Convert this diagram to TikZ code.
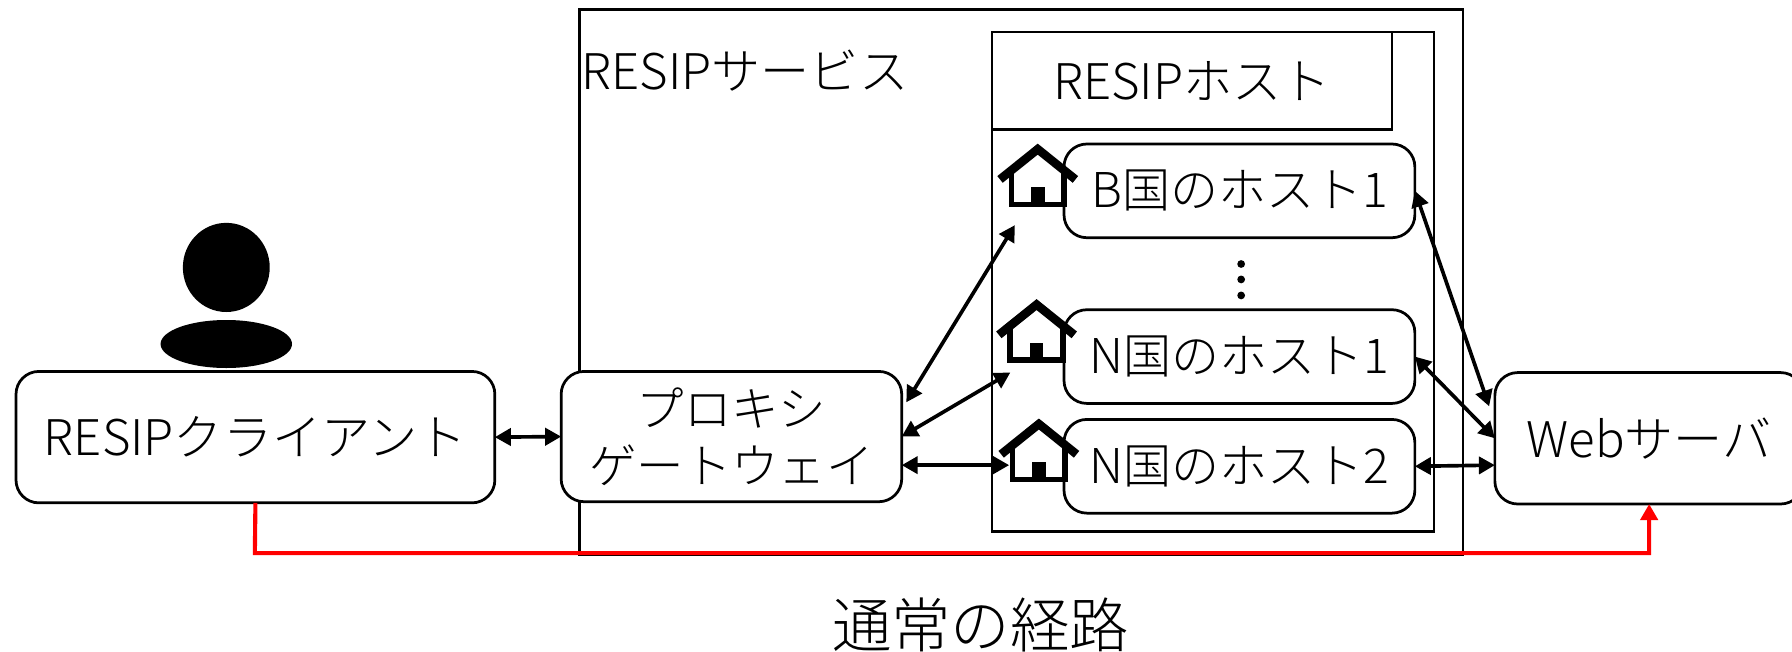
\documentclass[tikz,border=0pt]{standalone}
\usepackage{fontspec}
\setmainfont{Noto Sans CJK JP}[UprightFont={* Light}]
\usetikzlibrary{arrows.meta,calc}
\tikzset{
  x=1pt,y=-1pt,
  every node/.style={font=\fontsize{43}{50}\selectfont,align=center,inner sep=0pt,outer sep=0pt},
  plainbox/.style={draw=black,line width=2.2pt,fill=none},
  roundbox/.style={draw=black,line width=2.4pt,rounded corners=20pt,fill=white},
  biarrow/.style={line width=3.2pt,{Triangle[length=14pt,width=15pt]}-{Triangle[length=14pt,width=15pt]}},
  redarrow/.style={draw=red,line width=3.6pt,-{Triangle[length=14pt,width=15pt]}},
  housebox/.style={minimum width=50pt,minimum height=54pt},
  hosttext/.style={font=\fontsize{42}{50}\selectfont},
}
\newcommand{\houseicon}[2]{%
  \begin{scope}[shift={(#1,#2)}]
    \draw[line width=5pt] (-23,22) -- (-23,52) -- (23,52) -- (23,22);
    \draw[line width=7.5pt,miter limit=10] (-33,30) -- (0,3.5) -- (33,30);
    \fill (-6,37) rectangle (6,54);
  \end{scope}}
\begin{document}
\begin{tikzpicture}
\useasboundingbox (0,0) rectangle (1568,570);
\begin{scope}
\clip (0,0) rectangle (1568,570);
\node[plainbox,minimum width=773pt,minimum height=477.5pt] (service) at (893.5,247) {};
\node[anchor=west] (servicelabel) at (509,62) {RESIPサービス};
\node[plainbox,line width=2pt,minimum width=387pt,minimum height=437pt] (hostarea) at (1061.5,246.5) {};
\node[plainbox,line width=2.5pt,minimum width=350pt,minimum height=85pt] (hosttitle) at (1043,70.5) {RESIPホスト};
\node[roundbox,minimum width=419pt,minimum height=115pt] (client) at (223.5,382.5) {\raisebox{1.5pt}{RESIPクライアント}};
\node[roundbox,font=\fontsize{41.5}{50}\selectfont,minimum width=298pt,minimum height=114pt] (gw) at (640,382) {プロキシ\\ゲートウェイ};
\node[roundbox,minimum width=270pt,minimum height=115pt] (web) at (1443,383.5) {Webサーバ};
\node[roundbox,hosttext,fill=none,minimum width=307pt,minimum height=82pt] (hostB) at (1084.5,167) {B国のホスト1};
\node[roundbox,hosttext,fill=none,minimum width=307pt,minimum height=82pt] (hostNa) at (1084.5,312) {N国のホスト1};
\node[roundbox,hosttext,fill=none,minimum width=307pt,minimum height=82pt] (hostNb) at (1084.5,408) {N国のホスト2};
\node[housebox] (houseB) at (908,154) {};
\node[housebox] (houseNa) at (907,290) {};
\node[housebox] (houseNb) at (909,394.5) {};
\houseicon{908}{127}
\houseicon{907}{263}
\houseicon{909}{367.5}
\fill (1086,231) circle (3.4);
\fill (1086,244.5) circle (3.4);
\fill (1086,258.5) circle (3.4);
\fill (198,234) ellipse (38 and 39);
\fill (198,301) ellipse (57.5 and 21);
\draw[biarrow] (client.east) -- (gw.west);
\draw[biarrow] ($(gw.east)+(4,-30)$) -- ($(houseB.south)+(-20,16)$);
\draw[biarrow] (gw.east) -- ($(houseNa.south west)+(2,9)$);
\draw[biarrow] ($(gw.east)+(0,25)$) -- ($(houseNb.west)+(-1,12.5)$);
\draw[biarrow] (hostB.east) -- ($(web.west)+(-5,-28)$);
\draw[biarrow] (hostNa.east) -- (web.west);
\draw[biarrow] (hostNb.east) -- ($(web.west)+(0,23.5)$);
\coordinate (redturnA) at (223,484);
\coordinate (redturnB) at (1443,484);
\draw[redarrow] (client.south) -- (redturnA) -- (redturnB) -- (web.south);
\node[font=\fontsize{52}{60}\selectfont] (routelabel) at (858,547) {通常の経路};
\end{scope}
\end{tikzpicture}
\end{document}
